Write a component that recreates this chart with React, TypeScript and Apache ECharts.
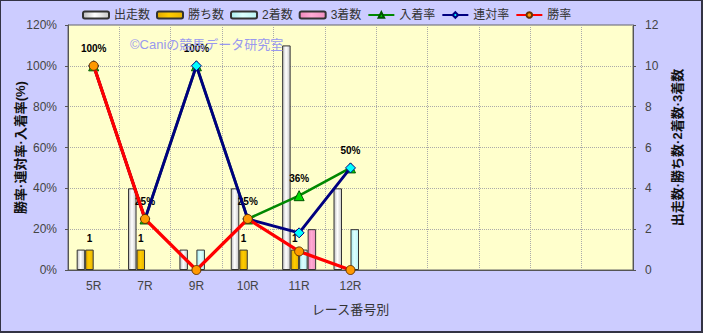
import React, { useEffect, useRef } from "react";
import * as echarts from "echarts";

const categories = ["5R", "7R", "9R", "10R", "11R", "12R", "", "", "", "", ""];
const runs = [1, 4, 1, 4, 11, 4];
const wins = [1, 1, 0, 1, 1, 0];
const seconds = [0, 0, 1, 0, 1, 2];
const thirds = [0, 0, 0, 0, 2, 0];
const placeRate = [100, 25, 100, 25, 36.4, 50];
const quinellaRate = [100, 25, 100, 25, 18.2, 50];
const winRate = [100, 25, 0, 25, 9.1, 0];
const leftTicks = [0, 20, 40, 60, 80, 100, 120];
const rightTicks = [0, 2, 4, 6, 8, 10, 12];

const FONT = '"Liberation Sans", "Noto Sans CJK JP", sans-serif';

const hideZero = (arr: number[]) => arr.map((v) => (v === 0 ? "-" : v));

export default function App() {
  const ref = useRef<HTMLDivElement>(null);
  useEffect(() => {
    if (!ref.current) return;
    const chart = echarts.init(ref.current, undefined, { renderer: "svg" });
    const barBorder = { borderColor: "#333333", borderWidth: 1 };
    const grad = (a: string, b: string, c: string) =>
      new echarts.graphic.LinearGradient(0, 0, 1, 0, [
        { offset: 0, color: a },
        { offset: 0.45, color: b },
        { offset: 1, color: c },
      ]);
    const barLabel = {
      show: true,
      position: "top" as const,
      distance: 6,
      color: "#000",
      fontSize: 10,
      fontWeight: "bold" as const,
      fontFamily: FONT,
      formatter: (p: any) => (p.value ? String(p.value) : ""),
    };
    chart.setOption({
      animation: false,
      backgroundColor: "#ccccff",
      textStyle: { fontFamily: FONT },
      legend: {
        left: 76,
        top: 3,
        itemWidth: 26,
        itemHeight: 7,
        itemGap: 6,
        textStyle: { color: "#333", fontSize: 12, fontFamily: FONT },
        data: [
          { name: "出走数", icon: "roundRect" },
          { name: "勝ち数", icon: "roundRect" },
          { name: "2着数", icon: "roundRect" },
          { name: "3着数", icon: "roundRect" },
          { name: "入着率" },
          { name: "連対率" },
          { name: "勝率" },
        ],
      },
      graphic: [
        {
          type: "text",
          left: 129,
          top: 37,
          z: 5,
          style: {
            text: "©Caniの競馬データ研究室",
            fill: "#9999ee",
            font: '13px "Liberation Sans", "Noto Sans CJK JP", sans-serif',
          },
        },
      ],
      grid: {
        left: 67,
        right: 68,
        top: 24,
        bottom: 61,
        containLabel: false,
        outerBoundsMode: "none",
        show: true,
        backgroundColor: "#ffffcc",
        borderColor: "#666666",
        borderWidth: 1,
      },
      xAxis: {
        type: "category",
        data: categories,
        boundaryGap: true,
        name: "レース番号別",
        nameLocation: "middle",
        nameGap: 33,
        nameMoveOverlap: false,
        nameTextStyle: { color: "#333", fontSize: 13, fontFamily: FONT },
        axisLine: { lineStyle: { color: "#555" } },
        axisTick: { show: false },
        axisLabel: { color: "#444", fontSize: 12, margin: 10 },
        splitLine: { show: true, lineStyle: { color: "#aaaaaa", type: "dotted" } },
      },
      yAxis: [
        {
          type: "value",
          min: 0,
          max: 120,
          interval: 20,
          name: "勝率·連対率·入着率(%)",
          nameLocation: "middle",
          nameRotate: 90,
          nameGap: 41,
          nameMoveOverlap: false,
          nameTextStyle: { color: "#111", fontSize: 13, fontWeight: "bold", fontFamily: FONT },
          axisLine: { show: true, lineStyle: { color: "#555" } },
          axisTick: { show: true, length: 3, lineStyle: { color: "#555" } },
          axisLabel: {
            color: "#444",
            fontSize: 12,
            margin: 11,
            formatter: (v: number) => (leftTicks.includes(v) ? v + "%" : ""),
          },
          splitLine: { show: true, lineStyle: { color: "#aaaaaa", type: "dotted" } },
        },
        {
          type: "value",
          min: 0,
          max: 12,
          interval: 2,
          name: "出走数·勝ち数·2着数·3着数",
          nameLocation: "middle",
          nameRotate: 90,
          nameGap: 38,
          nameMoveOverlap: false,
          nameTextStyle: { color: "#111", fontSize: 13, fontWeight: "bold", fontFamily: FONT },
          axisLine: { show: true, lineStyle: { color: "#555" } },
          axisTick: { show: true, length: 3, lineStyle: { color: "#555" } },
          axisLabel: {
            color: "#444",
            fontSize: 12,
            margin: 12,
            formatter: (v: number) => (rightTicks.includes(v) ? String(v) : ""),
          },
          splitLine: { show: false },
        },
      ],
      series: [
        {
          name: "出走数",
          type: "bar",
          yAxisIndex: 1,
          barWidth: 8.5,
          barGap: "0%",
          data: hideZero(runs),
          itemStyle: { color: grad("#bdbdbd", "#ffffff", "#c8c8c8"), ...barBorder },
        },
        {
          name: "勝ち数",
          type: "bar",
          yAxisIndex: 1,
          barWidth: 8.5,
          barGap: "0%",
          data: hideZero(wins),
          label: barLabel,
          itemStyle: { color: grad("#e0a800", "#ffcc00", "#e8b400"), ...barBorder },
        },
        {
          name: "2着数",
          type: "bar",
          yAxisIndex: 1,
          barWidth: 8.5,
          barGap: "0%",
          data: hideZero(seconds),
          itemStyle: { color: grad("#aaeeee", "#ddffff", "#bbf4f4"), ...barBorder },
        },
        {
          name: "3着数",
          type: "bar",
          yAxisIndex: 1,
          barWidth: 8.5,
          barGap: "0%",
          data: hideZero(thirds),
          itemStyle: { color: grad("#ee88bb", "#ffaad4", "#f090c0"), ...barBorder },
        },
        {
          name: "入着率",
          type: "line",
          yAxisIndex: 0,
          data: placeRate,
          symbol: "triangle",
          symbolSize: 10,
          z: 3,
          lineStyle: { color: "#008800", width: 2.6 },
          itemStyle: { color: "#00dd00", borderColor: "#005500", borderWidth: 1 },
          label: {
            show: true,
            position: "top",
            distance: 7,
            color: "#000",
            fontSize: 10,
            fontWeight: "bold",
            fontFamily: FONT,
            formatter: (p: any) => Math.round(p.value) + "%",
          },
        },
        {
          name: "連対率",
          type: "line",
          yAxisIndex: 0,
          data: quinellaRate,
          symbol: "diamond",
          symbolSize: 10,
          z: 4,
          lineStyle: { color: "#000080", width: 2.9 },
          itemStyle: { color: "#00ffff", borderColor: "#000080", borderWidth: 1 },
        },
        {
          name: "勝率",
          type: "line",
          yAxisIndex: 0,
          data: winRate,
          symbol: "circle",
          symbolSize: 9,
          z: 5,
          lineStyle: { color: "#ff0000", width: 3.3 },
          itemStyle: { color: "#ff9900", borderColor: "#663300", borderWidth: 1 },
        },
      ],
    });
    return () => chart.dispose();
  }, []);
  return (
    <div
      style={{
        position: "fixed",
        left: 0,
        top: 0,
        width: 703,
        height: 333,
        boxSizing: "border-box",
        borderTop: "1px solid #333344",
        borderLeft: "1px solid #333344",
        borderRight: "2px solid #333344",
        borderBottom: "2px solid #333344",
        background: "#ccccff",
      }}
    >
      <div ref={ref} style={{ width: 700, height: 330 }} />
    </div>
  );
}
